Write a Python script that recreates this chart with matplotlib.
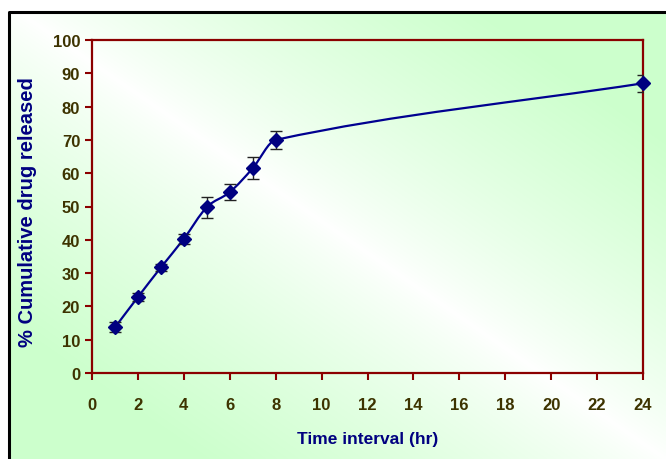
import numpy as np
import matplotlib
matplotlib.use('Agg')
import matplotlib.pyplot as plt
from matplotlib.path import Path
from matplotlib.patches import PathPatch, Rectangle

# release data
time_hr = [1, 2, 3, 4, 5, 6, 7, 8, 24]
release = [13.7, 22.8, 31.7, 40.3, 49.8, 54.3, 61.5, 70.0, 87.0]
err = [1.5, 1.2, 1.1, 1.5, 3.2, 2.4, 3.3, 2.7, 2.6]
xticks = list(range(0, 25, 2))
yticks = list(range(0, 101, 10))

plt.rcParams['font.family'] = ['Liberation Sans', 'DejaVu Sans']

fig = plt.figure(figsize=(6.66, 4.6), dpi=100)

# gradient background (white on the TL-BR diagonal, green at the other corners)
bg = fig.add_axes([0, 0, 1, 1])
h, w = 460, 666
yy, xx = np.mgrid[0:h, 0:w]
d = np.abs(xx / w - yy / h)
t = np.clip(d / 0.7, 0, 1) ** 0.8
white = np.array([1.0, 1.0, 1.0])
green = np.array([0.8, 1.0, 0.8])
img = white[None, None, :] * (1 - t[..., None]) + green[None, None, :] * t[..., None]
bg.imshow(img, extent=[0, 1, 0, 1], aspect='auto', origin='upper')
bg.set_xlim(0, 1)
bg.set_ylim(0, 1)
bg.axis('off')
# white margin above / left and black frame
bg.add_patch(Rectangle((0, 1 - 13 / h), 1, 13 / h, color='white', zorder=2))
bg.add_patch(Rectangle((0, 0), 8 / w, 1, color='white', zorder=2))
bg.plot([9 / w, 9 / w, 1.0], [0, 1 - 13 / h, 1 - 13 / h], color='black', lw=2.2, zorder=3,
        solid_capstyle='projecting')

ax = fig.add_axes([92 / w, 1 - 374 / h, (643 - 92) / w, (374 - 41) / h])
ax.patch.set_alpha(0)

frame = '#8b0000'
for s in ax.spines.values():
    s.set_color(frame)
    s.set_linewidth(1.6)

# smoothed line: cubic Hermite segments through the points, drawn as bezier curves
px = np.array(time_hr, float)
py = np.array(release, float)
n = len(px)
m = np.zeros(n)
for i in range(n):
    a = max(i - 1, 0)
    b = min(i + 1, n - 1)
    m[i] = (py[b] - py[a]) / (px[b] - px[a])
verts = [(px[0], py[0])]
codes = [Path.MOVETO]
for i in range(n - 1):
    dx = px[i + 1] - px[i]
    verts += [(px[i] + dx / 3, py[i] + m[i] * dx / 3),
              (px[i + 1] - dx / 3, py[i + 1] - m[i + 1] * dx / 3),
              (px[i + 1], py[i + 1])]
    codes += [Path.CURVE4] * 3
ax.add_patch(PathPatch(Path(verts, codes), fill=False, edgecolor='#000090', lw=1.6, zorder=3))

ax.errorbar(time_hr, release, yerr=err, fmt='none', ecolor='#222222', elinewidth=1,
            capsize=4, capthick=1, zorder=4)
ax.plot(time_hr, release, linestyle='none', marker='D', markersize=7.5,
        color='#000080', zorder=5, clip_on=False)

ax.set_xlim(0, 24)
ax.set_ylim(0, 100)
ax.set_xticks(xticks)
ax.set_yticks(yticks)
ax.tick_params(axis='both', direction='out', color=frame, length=5, width=1.5,
               labelcolor='#3d3300', labelsize=12)
ax.tick_params(axis='x', pad=12)
for lab in ax.get_xticklabels() + ax.get_yticklabels():
    lab.set_fontweight('bold')

ax.set_xlabel('Time interval (hr)', color='#000080', fontsize=12.5, fontweight='bold', labelpad=14)
ax.set_ylabel('% Cumulative drug released', color='#000080', fontsize=14.5, fontweight='bold')
ax.yaxis.set_label_coords(-0.1, 0.486)

fig.savefig('out.png', dpi=100)
